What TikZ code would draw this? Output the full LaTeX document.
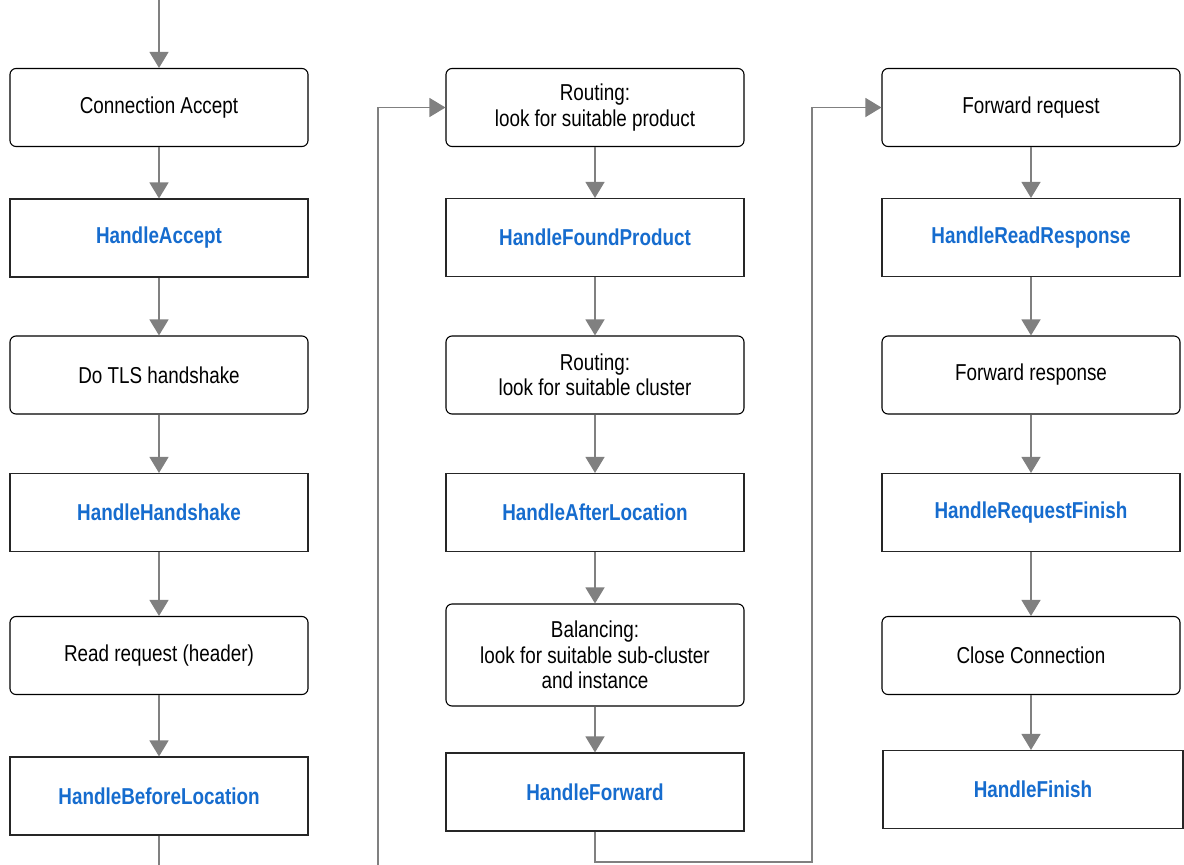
\documentclass[tikz,border=0pt]{standalone}
\usepackage{fontspec}
\setmainfont{Liberation Sans}[FakeStretch=0.82]
\usetikzlibrary{arrows.meta}
\definecolor{hblue}{RGB}{22,108,206}
\definecolor{flowgray}{RGB}{128,128,128}
\begin{document}
\begin{tikzpicture}[x=1pt, y=-1pt, font=\fontsize{23}{25.5}\selectfont,
	stage/.style={draw=black, rounded corners=6pt, line width=1.1pt, minimum width=298pt, minimum height=78pt, inner sep=0pt, align=center},
	handler/.style={draw=black!85, line width=1.1pt, minimum width=298pt, minimum height=78pt, inner sep=0pt, text=hblue, font=\fontsize{23}{25.5}\selectfont\bfseries},
	flow/.style={flowgray, line width=1.4pt, -{Triangle[width=19pt,length=16pt]}},
	link/.style={flowgray, line width=1.4pt}]
				\useasboundingbox (0,0) rectangle (1184,865);
				\coordinate (start) at (159,0);
				\node[stage] (accept) at (159,107.5) {Connection Accept};
				\node[handler] (hAccept) at (159,238) {HandleAccept};
				\node[stage] (tls) at (159,375) {Do TLS handshake};
				\node[handler] (hHandshake) at (159,512.5) {HandleHandshake};
				\node[stage] (readReq) at (159,655.5) {Read request (header)};
				\node[handler] (hBefore) at (159,796) {HandleBeforeLocation};
				\coordinate (leftEnd) at (159,865);
				\coordinate (loopIn) at (378,865);
				\node[stage] (product) at (595,107.5) {Routing:\\look for suitable product};
				\node[handler] (hFound) at (595,237.5) {HandleFoundProduct};
				\node[stage] (cluster) at (595,375) {Routing:\\look for suitable cluster};
				\node[handler] (hAfter) at (595,512.5) {HandleAfterLocation};
				\node[stage, minimum height=102pt] (balance) at (595,655) {Balancing:\\look for suitable sub-cluster\\and instance};
				\node[handler] (hForward) at (595,792) {HandleForward};
				\coordinate (turn) at (812,862);
				\node[stage] (fwdReq) at (1031,107.5) {Forward request};
				\node[handler] (hRead) at (1031,237.5) {HandleReadResponse};
				\node[stage] (fwdResp) at (1031,375) {Forward response};
				\node[handler] (hFinishReq) at (1031,512.5) {HandleRequestFinish};
				\node[stage] (close) at (1031,655.5) {Close Connection};
				\node[handler, minimum width=300pt] (hFinish) at (1033,789.5) {HandleFinish};
				\draw[flow] (start) -- (accept.north);
				\draw[flow] (accept.south) -- (hAccept.north);
				\draw[flow] (hAccept.south) -- (tls.north);
				\draw[flow] (tls.south) -- (hHandshake.north);
				\draw[flow] (hHandshake.south) -- (readReq.north);
				\draw[flow] (readReq.south) -- (hBefore.north);
				\draw[link] (hBefore.south) -- (leftEnd);
				\draw[flow] (loopIn) |- (product.west);
				\draw[flow] (product.south) -- (hFound.north);
				\draw[flow] (hFound.south) -- (cluster.north);
				\draw[flow] (cluster.south) -- (hAfter.north);
				\draw[flow] (hAfter.south) -- (balance.north);
				\draw[flow] (balance.south) -- (hForward.north);
				\draw[flow] (hForward.south) |- (turn) |- (fwdReq.west);
				\draw[flow] (fwdReq.south) -- (hRead.north);
				\draw[flow] (hRead.south) -- (fwdResp.north);
				\draw[flow] (fwdResp.south) -- (hFinishReq.north);
				\draw[flow] (hFinishReq.south) -- (close.north);
				\draw[flow] (close.south) -- (close.south |- hFinish.north);
			\end{tikzpicture}
\end{document}
